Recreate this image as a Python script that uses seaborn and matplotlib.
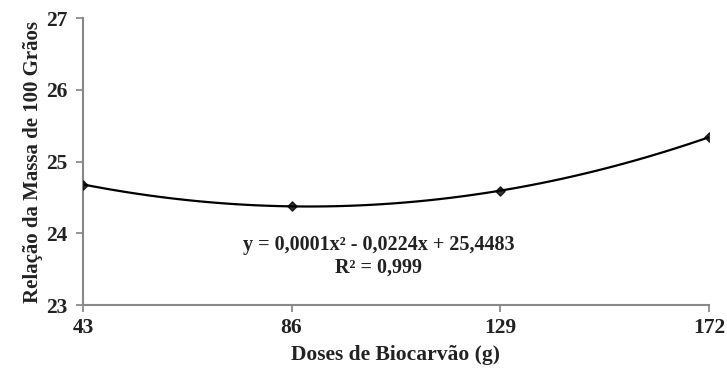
import matplotlib.pyplot as plt
import seaborn as sns
import pandas as pd

doses = [43, 86, 129, 172]
massa = [24.68, 24.38, 24.59, 25.34]

df = pd.DataFrame({"dose": doses, "massa": massa})

sns.set_theme(style="white")
plt.rcParams["font.family"] = ["Liberation Serif", "DejaVu Serif"]

fig = plt.figure(figsize=(7.27, 3.68), dpi=100)
ax = fig.add_axes([0.114, 0.171, 0.861, 0.78])

sns.regplot(data=df, x="dose", y="massa", order=2, ci=None, ax=ax,
            marker="D", color="black",
            scatter_kws={"s": 22, "zorder": 3},
            line_kws={"linewidth": 1.6})

ax.set_xlim(43, 172)
ax.set_ylim(23, 27)
ax.set_xticks(doses)
ax.set_yticks([23, 24, 25, 26, 27])
ax.tick_params(axis="both", labelsize=15.5, length=5, color="#888888",
               direction="out", bottom=True, left=True)
ax.tick_params(axis="y", pad=6)
ax.tick_params(axis="x", pad=4)
for lbl in ax.get_xticklabels() + ax.get_yticklabels():
    lbl.set_fontweight("bold")
    lbl.set_color("#222222")

for s in ["top", "right"]:
    ax.spines[s].set_visible(False)
for s in ["left", "bottom"]:
    ax.spines[s].set_color("#888888")
    ax.spines[s].set_linewidth(1.5)

ax.set_xlabel("Doses de Biocarvão (g)", fontsize=15.5, fontweight="bold",
              color="#222222", labelpad=5)
ax.set_ylabel("Relação da Massa de 100 Grãos", fontsize=15, fontweight="bold",
              color="#222222", labelpad=2)

ax.text(104, 23.84, "y = 0,0001x² - 0,0224x + 25,4483", ha="center", va="center",
        fontsize=14.5, fontweight="bold", color="#222222")
ax.text(104, 23.52, "R² = 0,999", ha="center", va="center",
        fontsize=14.5, fontweight="bold", color="#222222")

fig.savefig("out.png", dpi=100)
